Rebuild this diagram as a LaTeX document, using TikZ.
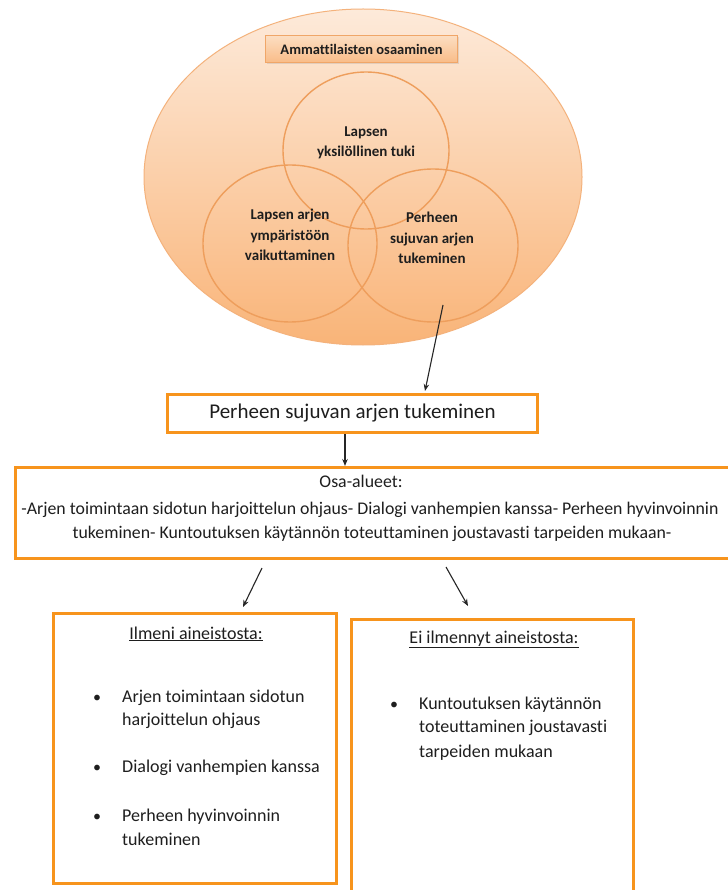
\documentclass[tikz,border=0pt]{standalone}
\usepackage{fontspec}
\setmainfont{Carlito}[Ligatures={NoCommon}]
\usetikzlibrary{shapes.geometric,arrows.meta,shadows}
\definecolor{boxorange}{RGB}{247,148,29}
\definecolor{ellTop}{RGB}{253,234,218}
\definecolor{ellBot}{RGB}{249,180,120}
\definecolor{ellLine}{RGB}{244,178,124}
\definecolor{vennLine}{RGB}{238,158,92}
\definecolor{titTop}{RGB}{252,222,194}
\definecolor{titBot}{RGB}{249,188,136}
\definecolor{titLine}{RGB}{240,166,104}
\definecolor{txt}{RGB}{30,30,30}
\begin{document}
\begin{tikzpicture}[x=1pt,y=-1pt,
  obox/.style={draw=boxorange, line width=3pt, rectangle, inner sep=0pt},
  arr/.style={-{Stealth[length=7pt,width=5.5pt]}, line width=1.1pt, black!85},
  venn/.style={ellipse, draw=vennLine, line width=1.4pt, inner sep=0pt},
  venntext/.style={font=\fontsize{15}{20.5}\selectfont\bfseries, align=center, text=txt, inner sep=0pt},
  itemtext/.style={font=\fontsize{18}{24}\selectfont, anchor=base west, inner sep=0pt, text=txt},
  bul/.style={font=\fontsize{16}{24}\selectfont, anchor=base, inner sep=0pt, text=txt},
  osatext/.style={font=\fontsize{17.8}{24}\selectfont, anchor=base, inner sep=0pt, text=txt},
  ttl/.style={font=\fontsize{18}{22}\selectfont, anchor=base, inner sep=0pt, text=txt}
]
\useasboundingbox[fill=white] (0,0) rectangle (727,890);

% Venn area
\node[ellipse, minimum width=438pt, minimum height=336pt, inner sep=0pt,
      top color=ellTop, bottom color=ellBot, draw=ellLine, line width=1pt] (outer) at (363,177) {};
\node[rectangle, minimum width=192pt, minimum height=27pt, inner sep=0pt,
      top color=titTop, bottom color=titBot, draw=titLine, line width=0.8pt,
      drop shadow={opacity=0.2, shadow xshift=1pt, shadow yshift=-1.5pt},
      font=\fontsize{14.5}{16}\selectfont\bfseries, text=txt] (title) at (361.5,49) {Ammattilaisten osaaminen};
\node[venn, minimum width=166pt, minimum height=157pt] (vtop) at (366,150.5) {};
\node[venn, minimum width=174pt, minimum height=157pt] (vleft) at (290,243.5) {};
\node[venn, minimum width=170pt, minimum height=153pt] (vright) at (433,245.5) {};
\node[venntext] (ttop) at (366,143) {Lapsen\\yksilöllinen tuki};
\node[venntext] (tleft) at (290,235) {Lapsen arjen\\ympäristöön\\vaikuttaminen};
\node[venntext] (tright) at (432,238) {Perheen\\sujuvan arjen\\tukeminen};

% Boxes
\node[obox, minimum width=370pt, minimum height=38pt, font=\fontsize{21}{25}\selectfont, text=txt] (box1) at (352.5,413.5) {Perheen sujuvan arjen tukeminen};
\node[obox, minimum width=723pt, minimum height=91pt] (box2) at (377,513) {};
\node[osatext] (osa) at (361,487) {Osa-alueet:};
\node[osatext] (osa1) at (370,514) {-Arjen toimintaan sidotun harjoittelun ohjaus- Dialogi vanhempien kanssa- Perheen hyvinvoinnin};
\node[osatext] (osa2) at (372,538) {tukeminen- Kuntoutuksen käytännön toteuttaminen joustavasti tarpeiden mukaan-};

\node[obox, minimum width=283pt, minimum height=270pt] (box3) at (195,748.5) {};
\node[obox, minimum width=282pt, minimum height=281pt] (box4) at (492.5,760) {};

% Left list
\node[ttl] (t3) at (196,639) {\underline{Ilmeni aineistosta:}};
\node[bul] (b31) at (97,702) {•};
\node[itemtext] (i31a) at (122,702) {Arjen toimintaan sidotun};
\node[itemtext] (i31b) at (122,725) {harjoittelun ohjaus};
\node[bul] (b32) at (97,772) {•};
\node[itemtext] (i32) at (122,772) {Dialogi vanhempien kanssa};
\node[bul] (b33) at (97,821) {•};
\node[itemtext] (i33a) at (122,821) {Perheen hyvinvoinnin};
\node[itemtext] (i33b) at (122,845) {tukeminen};

% Right list
\node[ttl] (t4) at (494,643) {\underline{Ei ilmennyt aineistosta:}};
\node[bul] (b41) at (394,709) {•};
\node[itemtext] (i41a) at (419,709) {Kuntoutuksen käytännön};
\node[itemtext] (i41b) at (419,732) {toteuttaminen joustavasti};
\node[itemtext] (i41c) at (419,757) {tarpeiden mukaan};

% Connectors
\coordinate (a0) at (443,305);
\draw[arr] (a0) -- ([xshift=72.5pt,yshift=2pt]box1.north);
\draw[arr] ([xshift=-7.5pt]box1.south) -- ([xshift=-7.5pt]box1.south |- box2.north);
\coordinate (a2) at (262,568);
\draw[arr] (a2) -- ([xshift=48pt,yshift=5pt]box3.north);
\coordinate (a3) at (446,567);
\draw[arr] (a3) -- ([xshift=-24.5pt,yshift=12pt]box4.north);
\end{tikzpicture}
\end{document}
